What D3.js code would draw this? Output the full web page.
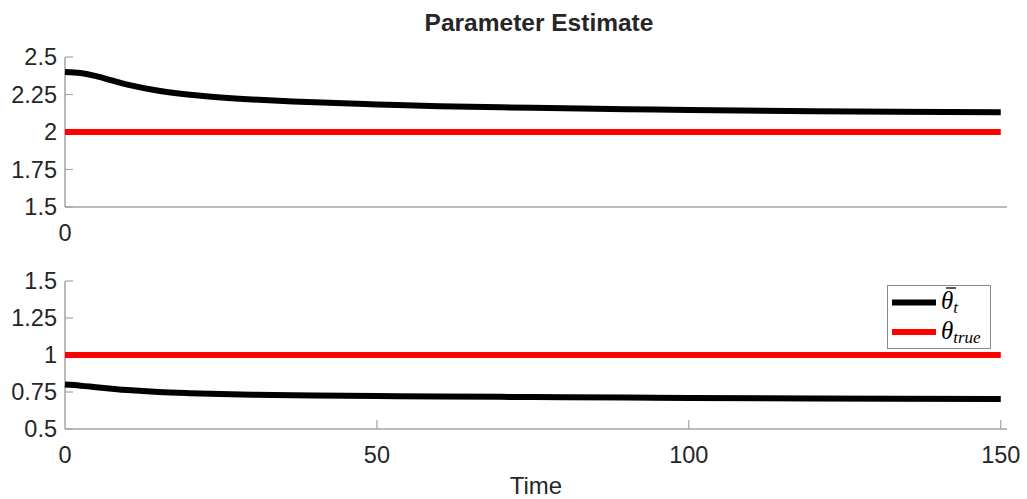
<!DOCTYPE html>
<html>
<head>
<meta charset="utf-8">
<script src="https://cdn.jsdelivr.net/npm/d3@7"></script>
<style>
  html, body { margin: 0; padding: 0; background: #fff; }
  svg { display: block; }
  .tick-label { font-family: "Liberation Sans", Arial, sans-serif; font-size: 23.5px; fill: #262626; }
</style>
</head>
<body>
<svg id="chart" width="1027" height="499"></svg>
<script>
// Time samples and parameter estimates for each panel
const time = [0, 2.5, 5, 7.5, 10, 15, 20, 25, 30, 40, 50, 60, 75, 90, 100, 120, 150];
const thetaBar1 = [2.40, 2.393, 2.373, 2.344, 2.316, 2.275, 2.248, 2.230, 2.217, 2.198, 2.184, 2.172, 2.161, 2.152, 2.147, 2.139, 2.131];
const thetaBar2 = [0.80, 0.793, 0.782, 0.772, 0.763, 0.750, 0.742, 0.736, 0.732, 0.727, 0.723, 0.720, 0.716, 0.712, 0.710, 0.706, 0.702];
const thetaTrue1 = 2;
const thetaTrue2 = 1;
const yTicks1 = [1.5, 1.75, 2, 2.25, 2.5];
const yTicks2 = [0.5, 0.75, 1, 1.25, 1.5];
const xTicks = [0, 50, 100, 150];

const svg = d3.select("#chart");
const x = d3.scaleLinear().domain([0, 151]).range([65, 1007]);

const panels = [
  { est: thetaBar1, truth: thetaTrue1, ticks: yTicks1, y: d3.scaleLinear().domain([1.5, 2.5]).range([207, 57]), xTicks: [0], xMarks: false },
  { est: thetaBar2, truth: thetaTrue2, ticks: yTicks2, y: d3.scaleLinear().domain([0.5, 1.5]).range([429, 281]), xTicks: xTicks, xMarks: true }
];

const fmt = v => String(v);
const axisColor = "#a3a3a3";

panels.forEach(p => {
  const g = svg.append("g");
  const y0 = p.y.range()[0], y1 = p.y.range()[1];

  // y axis
  g.append("line").attr("x1", x(0)).attr("x2", x(0)).attr("y1", y0).attr("y2", y1)
    .attr("stroke", axisColor).attr("stroke-width", 1.5);
  p.ticks.forEach(t => {
    g.append("line").attr("x1", x(0)).attr("x2", x(0) + 8).attr("y1", p.y(t)).attr("y2", p.y(t))
      .attr("stroke", axisColor).attr("stroke-width", 1.2);
    g.append("text").attr("class", "tick-label").attr("x", 57).attr("y", p.y(t))
      .attr("text-anchor", "end").attr("dy", "0.36em").text(fmt(t));
  });

  // x axis
  g.append("line").attr("x1", x(0)).attr("x2", x.range()[1]).attr("y1", y0).attr("y2", y0)
    .attr("stroke", axisColor).attr("stroke-width", 1.5);
  p.xTicks.forEach(t => {
    if (p.xMarks && t > 0) {
      g.append("line").attr("x1", x(t)).attr("x2", x(t)).attr("y1", y0).attr("y2", y0 - 9)
        .attr("stroke", axisColor).attr("stroke-width", 1.2);
    }
    g.append("text").attr("class", "tick-label").attr("x", x(t)).attr("y", y0 + 26)
      .attr("text-anchor", "middle").attr("dy", "0.36em").text(fmt(t));
  });

  // true parameter
  g.append("line").attr("x1", x(time[0])).attr("x2", x(time[time.length - 1]))
    .attr("y1", p.y(p.truth)).attr("y2", p.y(p.truth))
    .attr("stroke", "#ff0000").attr("stroke-width", 6);

  // estimate
  const line = d3.line().x((d, i) => x(time[i])).y(d => p.y(d)).curve(d3.curveCatmullRom.alpha(0.5));
  g.append("path").datum(p.est).attr("d", line)
    .attr("fill", "none").attr("stroke", "#000").attr("stroke-width", 6);
});

// title
svg.append("text").attr("x", 539).attr("y", 31).attr("text-anchor", "middle")
  .attr("font-family", "Liberation Sans, Arial, sans-serif").attr("font-weight", "bold")
  .attr("font-size", 24.5).attr("fill", "#262626").text("Parameter Estimate");

// x label
svg.append("text").attr("x", 536).attr("y", 494).attr("text-anchor", "middle")
  .attr("font-family", "Liberation Sans, Arial, sans-serif")
  .attr("font-size", 24).attr("fill", "#262626").text("Time");

// legend
const lg = svg.append("g");
lg.append("rect").attr("x", 887.5).attr("y", 285.5).attr("width", 103).attr("height", 63)
  .attr("fill", "#fff").attr("stroke", "#8a8a8a").attr("stroke-width", 1);
lg.append("line").attr("x1", 892).attr("x2", 936).attr("y1", 302.5).attr("y2", 302.5)
  .attr("stroke", "#000").attr("stroke-width", 6);
lg.append("line").attr("x1", 892).attr("x2", 936).attr("y1", 332).attr("y2", 332)
  .attr("stroke", "#ff0000").attr("stroke-width", 6);

const serif = "Liberation Serif, Times New Roman, serif";
const t1 = lg.append("text").attr("x", 941).attr("y", 309)
  .attr("font-family", serif).attr("font-style", "italic").attr("font-size", 25).attr("fill", "#000");
t1.append("tspan").text("θ");
t1.append("tspan").attr("font-size", 17).attr("dy", 4).text("t");
// bar accent over theta
lg.append("line").attr("x1", 946).attr("x2", 956).attr("y1", 288).attr("y2", 288)
  .attr("stroke", "#000").attr("stroke-width", 1.3);

const t2 = lg.append("text").attr("x", 941).attr("y", 339)
  .attr("font-family", serif).attr("font-style", "italic").attr("font-size", 25).attr("fill", "#000");
t2.append("tspan").text("θ");
t2.append("tspan").attr("font-size", 17).attr("dy", 4).text("true");
</script>
</body>
</html>
